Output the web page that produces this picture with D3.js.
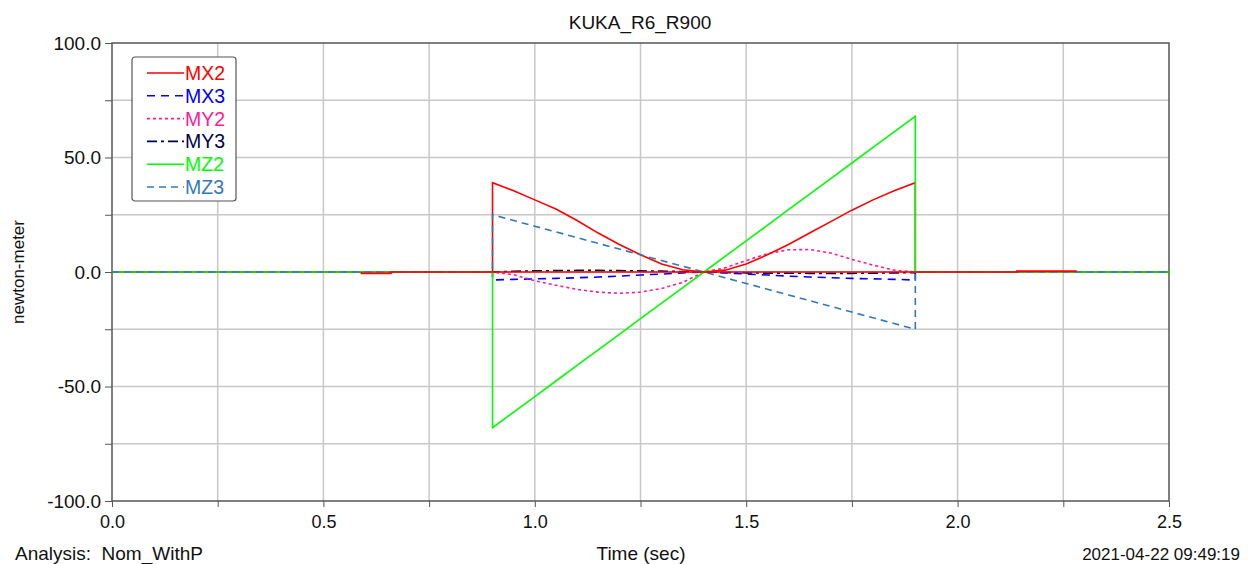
<!DOCTYPE html>
<html>
<head>
<meta charset="utf-8">
<script src="https://cdn.jsdelivr.net/npm/d3@7"></script>
<style>
  body { margin: 0; background: #fff; }
  svg text { font-family: "Liberation Sans", Arial, sans-serif; }
</style>
</head>
<body>
<div id="chart"></div>
<script>
// time samples (sec) for the move; 0.9 and 1.9 repeated for the steps
const times = [0, 0.9, 0.9, 0.95, 1.0, 1.05, 1.1, 1.15, 1.2, 1.25, 1.3, 1.35, 1.4,
  1.45, 1.5, 1.55, 1.6, 1.65, 1.7, 1.75, 1.8, 1.85, 1.9, 1.9, 2.5];

const mx2 = [0, 0, 39, 35.5, 31.5, 27.5, 22.5, 17, 12, 7.5, 3.5, 1, 0,
  0.8, 3.5, 7.5, 12, 17, 22, 27, 31.5, 35.5, 39, 0, 0];
const mx3 = [0, 0, -3.5, -3.2, -3, -2.8, -2.5, -2.2, -1.8, -1.3, -0.9, -0.4, 0,
  -0.4, -0.9, -1.3, -1.8, -2.2, -2.5, -2.8, -3, -3.2, -3.5, 0, 0];
const my2 = [0, 0, 0, -1.2, -3.8, -5.8, -7.6, -8.8, -9.3, -8.8, -7.2, -4.5, 0,
  1.8, 5, 8, 9.7, 9.8, 8.3, 5.5, 3, 0.8, 0, 0, 0];
const my3 = [0, 0, 0, 0.3, 0.5, 0.6, 0.7, 0.7, 0.6, 0.5, 0.4, 0.2, 0,
  -0.2, -0.4, -0.5, -0.5, -0.6, -0.6, -0.6, -0.5, -0.4, -0.3, 0, 0];
const mz2 = [0, 0, -68, -61.2, -54.4, -47.6, -40.8, -34, -27.2, -20.4, -13.6, -6.8, 0,
  6.8, 13.6, 20.4, 27.2, 34, 40.8, 47.6, 54.4, 61.2, 68, 0, 0];
const mz3 = [0, 0, 25, 22.5, 20, 17.5, 15, 12.5, 10, 7.5, 5, 2.5, 0,
  -2.5, -5, -7.5, -10, -12.5, -15, -17.5, -20, -22.5, -25, 0, 0];

// small MX2 blips before and after the move
const blipTimes = [0.59, 0.59, 0.66, 0.66, 2.14, 2.14, 2.28, 2.28];
const blipValues = [0, -0.6, -0.6, 0, 0, 0.4, 0.4, 0];

const seriesNames = ["MX2", "MX3", "MY2", "MY3", "MZ2", "MZ3"];
const seriesColors = ["#ff0000", "#0000ff", "#ff1a9c", "#00004d", "#00ff00", "#3479b5"];
const seriesDash = ["none", "8,6", "3,3", "10,4,3,4", "none", "7,5"];

const xTicks = [0, 0.5, 1.0, 1.5, 2.0, 2.5];
const yTicks = [-100, -50, 0, 50, 100];

const W = 1258, H = 564;
const margin = { left: 112, right: 89, top: 43, bottom: 63 };

const svg = d3.select("#chart").append("svg")
  .attr("width", W)
  .attr("height", H);

const x = d3.scaleLinear().domain([0, 2.5]).range([margin.left, W - margin.right]);
const y = d3.scaleLinear().domain([-100, 100]).range([H - margin.bottom, margin.top]);

// grid
const minorX = d3.range(0, 2.5001, 0.25);
const minorY = d3.range(-100, 100.001, 25);
svg.append("g").selectAll("line").data(minorX.slice(1, -1)).enter().append("line")
  .attr("x1", d => x(d)).attr("x2", d => x(d))
  .attr("y1", y(100)).attr("y2", y(-100))
  .style("stroke", "#c8c8c8").style("stroke-width", 1.5);
svg.append("g").selectAll("line").data(minorY.slice(1, -1)).enter().append("line")
  .attr("y1", d => y(d)).attr("y2", d => y(d))
  .attr("x1", x(0)).attr("x2", x(2.5))
  .style("stroke", "#c8c8c8").style("stroke-width", 1.5);

// axes
const xAxis = svg.append("g")
  .attr("transform", `translate(0,${y(-100)})`)
  .call(d3.axisBottom(x).tickValues(minorX).tickSize(6)
    .tickFormat(d => xTicks.some(t => Math.abs(t - d) < 1e-6) ? d.toFixed(1) : ""));
const yAxis = svg.append("g")
  .attr("transform", `translate(${x(0)},0)`)
  .call(d3.axisLeft(y).tickValues(minorY).tickSize(7)
    .tickFormat(d => yTicks.includes(d) ? d.toFixed(1) : ""));
[xAxis, yAxis].forEach(g => {
  g.select(".domain").remove();
  g.selectAll(".tick line").style("stroke", "#555");
  g.selectAll(".tick text")
    .style("font-family", '"Liberation Sans", Arial, sans-serif')
    .style("fill", "#111");
});
xAxis.selectAll(".tick text").attr("dy", "1.0em").style("font-size", "18px");
yAxis.selectAll(".tick text").attr("x", -11).style("font-size", "19px");

// frame
svg.append("rect")
  .attr("x", x(0)).attr("y", y(100))
  .attr("width", x(2.5) - x(0)).attr("height", y(-100) - y(100))
  .style("fill", "none").style("stroke", "#555").style("stroke-width", 1.5);

// lines
svg.append("clipPath").attr("id", "clip").append("rect")
  .attr("x", x(0)).attr("y", y(100))
  .attr("width", x(2.5) - x(0)).attr("height", y(-100) - y(100));

const line = d3.line().x(d => x(d[0])).y(d => y(d[1]));
const seriesValues = [mx2, mx3, my2, my3, mz2, mz3];
const plot = svg.append("g").attr("clip-path", "url(#clip)");

// draw back to front so the legend order's first series sits on top
const order = [3, 1, 2, 0, 4, 5];
order.forEach(i => {
  plot.append("path")
    .datum(times.map((t, k) => [t, seriesValues[i][k]]))
    .attr("d", line)
    .style("fill", "none")
    .style("stroke", seriesColors[i])
    .style("stroke-width", 1.6)
    .style("stroke-dasharray", seriesDash[i]);
});
plot.append("path")
  .datum(blipTimes.map((t, k) => [t, blipValues[k]]))
  .attr("d", line)
  .style("fill", "none")
  .style("stroke", seriesColors[0])
  .style("stroke-width", 1.6);

// legend
const legend = svg.append("g").attr("transform", "translate(132,57)");
legend.append("rect")
  .attr("width", 104).attr("height", 144).attr("rx", 3)
  .style("fill", "#fff").style("stroke", "#555").style("stroke-width", 1.2);
seriesNames.forEach((name, i) => {
  const yy = 16 + i * 22.8;
  legend.append("line")
    .attr("x1", 15).attr("x2", 52).attr("y1", yy).attr("y2", yy)
    .style("stroke", seriesColors[i]).style("stroke-width", 1.6)
    .style("stroke-dasharray", seriesDash[i]);
  legend.append("text")
    .attr("x", 53).attr("y", yy + 7)
    .style("font-size", "19.5px").style("fill", seriesColors[i])
    .text(name);
});

// titles
svg.append("text").attr("x", 640).attr("y", 29).attr("text-anchor", "middle")
  .style("font-size", "19px").style("fill", "#111").text("KUKA_R6_R900");
svg.append("text")
  .attr("transform", `translate(24,${y(0)}) rotate(-90)`)
  .attr("text-anchor", "middle")
  .style("font-size", "17px").style("fill", "#111").text("newton-meter");
svg.append("text").attr("x", 641).attr("y", 560).attr("text-anchor", "middle")
  .style("font-size", "19px").style("fill", "#111").text("Time (sec)");
svg.append("text").attr("x", 15).attr("y", 560)
  .attr("xml:space", "preserve")
  .style("font-size", "19px").style("fill", "#111").style("white-space", "pre")
  .text("Analysis:  Nom_WithP");
svg.append("text").attr("x", 1240).attr("y", 560).attr("text-anchor", "end")
  .style("font-size", "17px").style("fill", "#111").text("2021-04-22 09:49:19");
</script>
</body>
</html>
